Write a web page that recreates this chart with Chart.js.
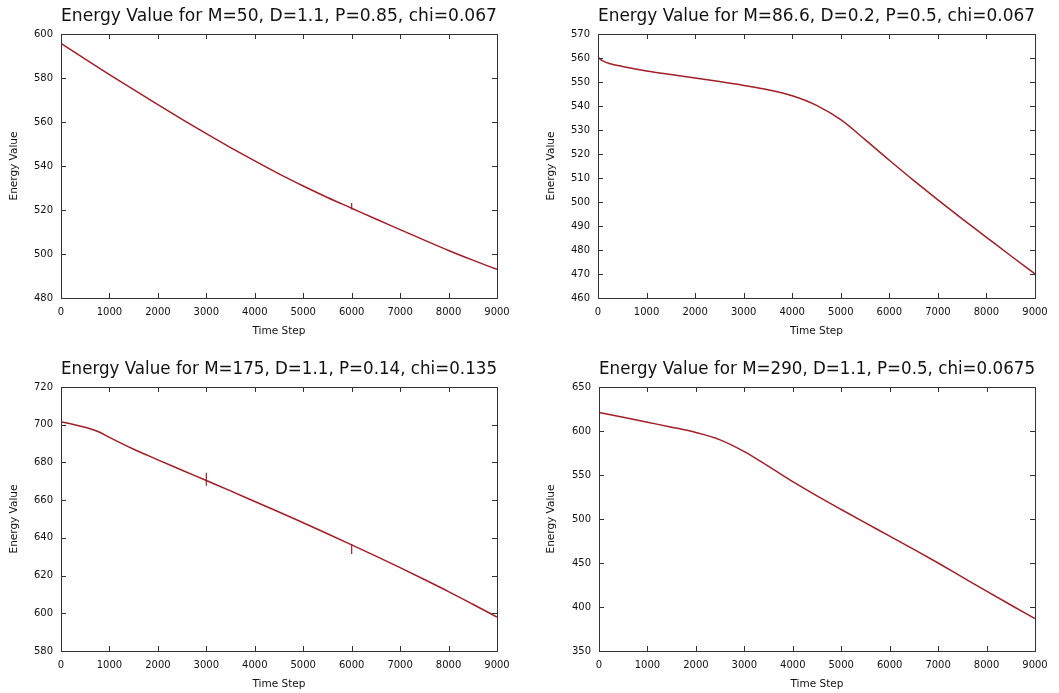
<!DOCTYPE html>
<html>
<head>
<meta charset="utf-8">
<script src="https://cdn.jsdelivr.net/npm/chart.js@4/dist/chart.umd.min.js"></script>
<style>
  html, body { margin: 0; padding: 0; background: #fff; overflow: hidden; }
  #wrap { position: relative; width: 1059px; height: 693px; }
  canvas { position: absolute; }
</style>
</head>
<body>
<div id="wrap">
  <canvas id="c1" width="530" height="347" style="left:0;top:0"></canvas>
  <canvas id="c2" width="529" height="347" style="left:530px;top:0"></canvas>
  <canvas id="c3" width="530" height="347" style="left:0;top:353px"></canvas>
  <canvas id="c4" width="529" height="347" style="left:530px;top:353px"></canvas>
</div>
<script>
// values (time step -> energy)
const titles = [
  'Energy Value for M=50, D=1.1, P=0.85, chi=0.067',
  'Energy Value for M=86.6, D=0.2, P=0.5, chi=0.067',
  'Energy Value for M=175, D=1.1, P=0.14, chi=0.135',
  'Energy Value for M=290, D=1.1, P=0.5, chi=0.0675'
];
const xTicks = [0, 1000, 2000, 3000, 4000, 5000, 6000, 7000, 8000, 9000];

const stepsA = [0, 500, 1000, 1500, 2000, 2500, 3000, 3500, 4000, 4500, 5000, 5500, 6000, 6500, 7000, 7500, 8000, 8500, 9000];
const energyA = [595.8, 588.6, 581.6, 574.7, 567.9, 561.2, 554.7, 548.4, 542.3, 536.4, 530.9, 525.7, 520.8, 515.9, 511.1, 506.3, 501.6, 497.2, 493.0];
const yTicksA = [480, 500, 520, 540, 560, 580, 600];
// short restart glitches: [step, low, high]
const glitchA = [[6000, 520.2, 523.2]];

const stepsB = [0, 100, 250, 500, 1000, 1500, 2000, 2500, 3000, 3500, 4000, 4500, 5000, 5500, 6000, 6500, 7000, 7500, 8000, 8500, 9000];
const energyB = [560.3, 558.8, 557.6, 556.5, 554.6, 553.1, 551.7, 550.2, 548.6, 546.8, 544.3, 540.3, 534.3, 526.0, 517.4, 509.0, 500.9, 493.0, 485.3, 477.6, 470.0];
const yTicksB = [460, 470, 480, 490, 500, 510, 520, 530, 540, 550, 560, 570];
const glitchB = [];

const stepsC = [0, 300, 600, 800, 1000, 1500, 2000, 2500, 3000, 3500, 4000, 4500, 5000, 5500, 6000, 6500, 7000, 7500, 8000, 8500, 9000];
const energyC = [701.6, 699.9, 697.9, 696.0, 693.3, 687.0, 681.4, 675.9, 670.4, 664.9, 659.3, 653.7, 648.0, 642.2, 636.3, 630.3, 624.2, 617.9, 611.5, 604.8, 598.0];
const yTicksC = [580, 600, 620, 640, 660, 680, 700, 720];
const glitchC = [[3000, 667.6, 674.5], [6000, 631.5, 636.8]];

const stepsD = [0, 500, 1000, 1500, 2000, 2500, 3000, 3500, 4000, 4500, 5000, 5500, 6000, 6500, 7000, 7500, 8000, 8500, 9000];
const energyD = [621.2, 615.6, 610.0, 604.4, 598.3, 590.0, 576.6, 559.8, 542.5, 526.3, 510.8, 495.6, 480.6, 465.5, 450.0, 434.0, 418.0, 402.3, 386.8];
const yTicksD = [350, 400, 450, 500, 550, 600, 650];
const glitchD = [];

const FONT = "'DejaVu Sans', 'Liberation Sans', sans-serif";
const INK = '#111';
const LINE = '#a01f28';

// gnuplot-style box with inward ticks on all four sides
const framePlugin = {
  id: 'frame',
  afterDraw(chart) {
    const { ctx, chartArea: a, scales } = chart;
    ctx.save();
    ctx.strokeStyle = '#333';
    ctx.lineWidth = 1;
    ctx.strokeRect(Math.round(a.left) + 0.5, Math.round(a.top) + 0.5,
      Math.round(a.right - a.left), Math.round(a.bottom - a.top));
    ctx.beginPath();
    scales.x.ticks.forEach(t => {
      const px = Math.round(scales.x.getPixelForValue(t.value)) + 0.5;
      ctx.moveTo(px, a.bottom); ctx.lineTo(px, a.bottom - 5);
      ctx.moveTo(px, a.top); ctx.lineTo(px, a.top + 5);
    });
    scales.y.ticks.forEach(t => {
      const py = Math.round(scales.y.getPixelForValue(t.value)) + 0.5;
      ctx.moveTo(a.left, py); ctx.lineTo(a.left + 5, py);
      ctx.moveTo(a.right, py); ctx.lineTo(a.right - 5, py);
    });
    ctx.stroke();
    ctx.restore();
  }
};

function makePanel(id, title, steps, energy, glitches, yTicks, box) {
  const datasets = [{
    data: steps.map((s, i) => ({ x: s, y: energy[i] })),
    borderColor: LINE,
    borderWidth: 1.5,
    pointRadius: 0,
    cubicInterpolationMode: 'monotone',
    fill: false
  }];
  glitches.forEach(g => datasets.push({
    data: [{ x: g[0], y: g[1] }, { x: g[0], y: g[2] }],
    borderColor: LINE,
    borderWidth: 1.2,
    pointRadius: 0,
    tension: 0,
    fill: false
  }));
  new Chart(document.getElementById(id), {
    type: 'line',
    data: { datasets },
    options: {
      responsive: false,
      animation: false,
      events: [],
      layout: { padding: { left: 0, right: box.right, top: 0, bottom: 0 } },
      plugins: {
        legend: { display: false },
        tooltip: { enabled: false },
        title: {
          display: true,
          text: title,
          fullSize: false,
          color: INK,
          font: { family: FONT, size: 17.7, weight: 'normal' },
          padding: { top: 6, bottom: 6.8 }
        }
      },
      scales: {
        x: {
          type: 'linear',
          min: xTicks[0],
          max: xTicks[xTicks.length - 1],
          afterBuildTicks: s => { s.ticks = xTicks.map(v => ({ value: v })); },
          afterFit: s => { s.height = 49; },
          grid: { display: false, drawTicks: false },
          border: { display: false },
          ticks: { color: INK, font: { family: FONT, size: 10 }, padding: 8, maxRotation: 0, autoSkip: false,
            callback: v => String(v) },
          title: { display: true, text: 'Time Step', color: INK, font: { family: FONT, size: 10.5 }, padding: { top: 0, bottom: 9.5 } }
        },
        y: {
          type: 'linear',
          min: yTicks[0],
          max: yTicks[yTicks.length - 1],
          afterBuildTicks: s => { s.ticks = yTicks.map(v => ({ value: v })); },
          afterFit: s => { s.width = box.left; },
          grid: { display: false, drawTicks: false },
          border: { display: false },
          ticks: { color: INK, font: { family: FONT, size: 10 }, padding: 8, callback: v => String(v) },
          title: { display: true, text: 'Energy Value', color: INK, font: { family: FONT, size: 10.5 }, padding: { top: box.ytitle, bottom: 0 } }
        }
      }
    },
    plugins: [framePlugin]
  });
}

makePanel('c1', titles[0], stepsA, energyA, glitchA, yTicksA, { left: 61, right: 33, ytitle: 8 });
makePanel('c2', titles[1], stepsB, energyB, glitchB, yTicksB, { left: 68, right: 24, ytitle: 15 });
makePanel('c3', titles[2], stepsC, energyC, glitchC, yTicksC, { left: 61, right: 33, ytitle: 8 });
makePanel('c4', titles[3], stepsD, energyD, glitchD, yTicksD, { left: 69, right: 24, ytitle: 15 });
</script>
</body>
</html>
